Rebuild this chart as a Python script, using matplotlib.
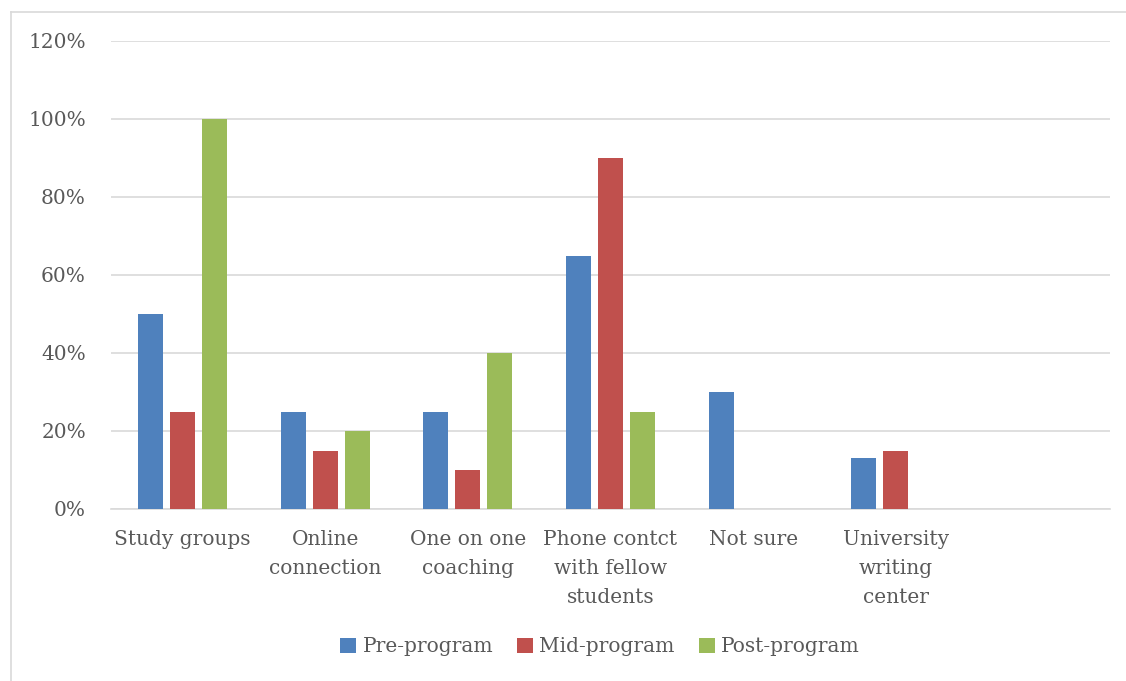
import matplotlib.pyplot as plt
import numpy as np
from matplotlib.lines import Line2D

categories = ["Study groups", "Online\nconnection", "One on one\ncoaching",
              "Phone contct\nwith fellow\nstudents", "Not sure",
              "University\nwriting\ncenter", ""]
pre_program = [50, 25, 25, 65, 30, 13, 0]
mid_program = [25, 15, 10, 90, 0, 15, 0]
post_program = [100, 20, 40, 25, 0, 0, 0]
series_names = ["Pre-program", "Mid-program", "Post-program"]
colors = ["#4F81BD", "#C0504D", "#9BBB59"]

plt.rcParams['font.family'] = ['DejaVu Serif']
text_color = '#595959'

fig = plt.figure(figsize=(11.26, 6.81), dpi=100)
ax = fig.add_axes([111/1126, 1 - 509/681, 999/1126, 468/681])

# outer chart border: only top and left edges are inside the image
bx, by = 10.5/1126, 1 - 11.5/681
fig.lines.append(Line2D([bx, 1.0], [by, by], transform=fig.transFigure,
                        color='#D9D9D9', linewidth=1.2))
fig.lines.append(Line2D([bx, bx], [0.0, by], transform=fig.transFigure,
                        color='#D9D9D9', linewidth=1.2))

x = np.arange(len(categories))
w = 0.175
step = 0.224
for i, vals in enumerate([pre_program, mid_program, post_program]):
    ax.bar(x + (i - 1) * step, vals, width=w, color=colors[i],
           label=series_names[i], zorder=3)

ax.set_xlim(-0.5, len(categories) - 0.5)
ax.set_ylim(0, 120)
ax.set_yticks(range(0, 121, 20))
ax.set_yticklabels([f"{v}%" for v in range(0, 121, 20)])
ax.set_xticks(x)
ax.set_xticklabels(categories, linespacing=1.66)

ax.grid(axis='y', color='#D9D9D9', linewidth=1.2, zorder=0)
for s in ['top', 'right', 'left']:
    ax.spines[s].set_visible(False)
ax.spines['bottom'].set_color('#D9D9D9')
ax.spines['bottom'].set_linewidth(1.2)
ax.tick_params(axis='both', length=0, labelsize=14.5, colors=text_color)
ax.tick_params(axis='x', pad=15)
ax.tick_params(axis='y', pad=18)

fig.legend(loc='center', bbox_to_anchor=(0.533, 1 - 647/681), ncol=3,
           frameon=False, fontsize=14.5, handlelength=0.8, handleheight=0.8,
           handletextpad=0.3, columnspacing=1.2, labelcolor=text_color)

fig.savefig('out.png', dpi=100)
